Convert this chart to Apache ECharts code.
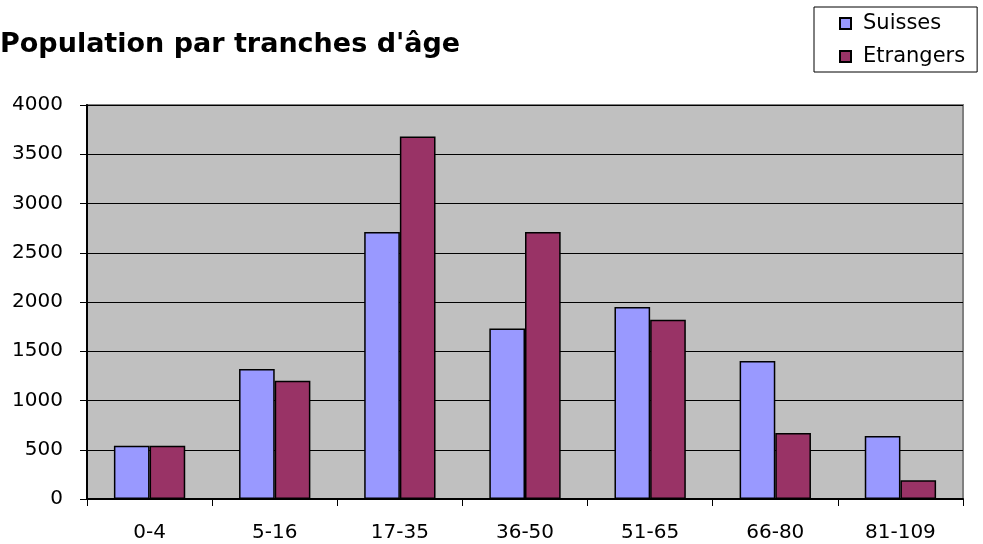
<!DOCTYPE html>
<html>
<head>
<meta charset="utf-8">
<script src="https://cdn.jsdelivr.net/npm/echarts@6/dist/echarts.min.js"></script>
<style>
html,body{margin:0;padding:0;background:#fff;}
#c{width:983px;height:544px;}
</style>
</head>
<body>
<div id="c"></div>
<script>
const categories = ['0-4', '5-16', '17-35', '36-50', '51-65', '66-80', '81-109'];
const suisses = [540, 1320, 2710, 1730, 1950, 1400, 640];
const etrangers = [540, 1200, 3680, 2710, 1820, 670, 190];
const seriesNames = ['Suisses', 'Etrangers'];
const yTicks = { min: 0, max: 4000, interval: 500 };

const chart = echarts.init(document.getElementById('c'), null, { renderer: 'canvas' });
const font = 'DejaVu Sans';
chart.setOption({
  animation: false,
  backgroundColor: '#ffffff',
  title: {
    text: "Population par tranches d'âge",
    left: 0, top: 31, padding: 0,
    textStyle: { fontFamily: font, fontSize: 27, fontWeight: 'bold', color: '#000' }
  },
  legend: {
    orient: 'vertical',
    left: 814, top: 7,
    padding: [6, 12, 5, 25],
    borderColor: '#000', borderWidth: 1,
    itemWidth: 11, itemHeight: 11, itemGap: 12,
    icon: 'rect',
    data: seriesNames,
    textStyle: { fontFamily: font, fontSize: 21, color: '#000', lineHeight: 21, padding: [0, 0, 0, 7] }
  },
  grid: {
    left: 87, right: 20, top: 105, bottom: 45,
    show: true, backgroundColor: '#C0C0C0', borderColor: '#808080', borderWidth: 2,
    containLabel: false
  },
  xAxis: {
    type: 'category',
    data: categories,
    boundaryGap: true,
    axisLine: { show: true, lineStyle: { color: '#000', width: 2 } },
    axisTick: { show: true, length: 7, alignWithLabel: false, lineStyle: { color: '#000', width: 1 } },
    axisLabel: { fontFamily: font, fontSize: 20, color: '#000', margin: 24, interval: 0 },
    splitLine: { show: false }
  },
  yAxis: {
    type: 'value',
    min: yTicks.min, max: yTicks.max, interval: yTicks.interval,
    axisLine: { show: true, lineStyle: { color: '#000', width: 2 } },
    axisTick: { show: true, length: 7, lineStyle: { color: '#000', width: 1 } },
    axisLabel: { fontFamily: font, fontSize: 20, color: '#000', margin: 24, formatter: (v) => String(v) },
    splitLine: { show: true, lineStyle: { color: '#000', width: 1 } }
  },
  series: [
    {
      name: seriesNames[0], type: 'bar', data: suisses,
      barGap: '0%', barCategoryGap: '43%',
      itemStyle: { color: '#9999FF', borderColor: '#000', borderWidth: 1.5 }
    },
    {
      name: seriesNames[1], type: 'bar', data: etrangers,
      barGap: '0%', barCategoryGap: '43%',
      itemStyle: { color: '#993366', borderColor: '#000', borderWidth: 1.5 }
    }
  ]
});
</script>
</body>
</html>
